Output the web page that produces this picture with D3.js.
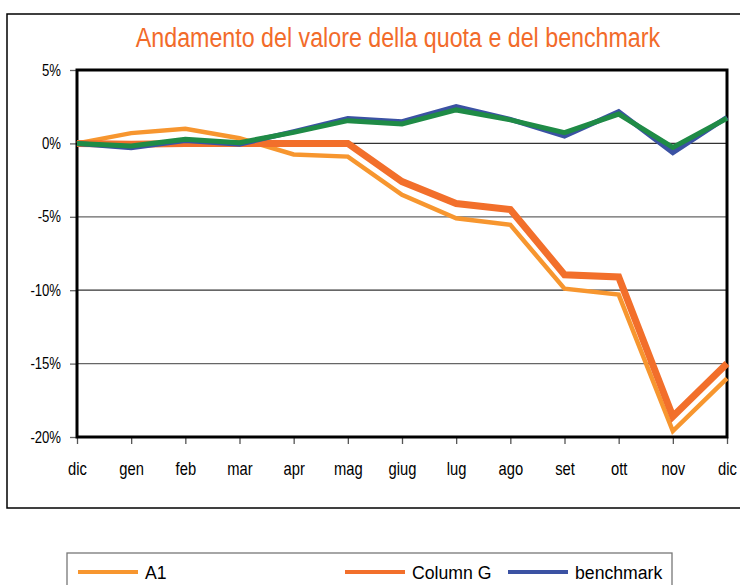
<!DOCTYPE html>
<html>
<head>
<meta charset="utf-8">
<script src="https://cdn.jsdelivr.net/npm/d3@7"></script>
<style>
  body { margin: 0; background: #fff; }
  svg { display: block; font-family: "Liberation Sans", Arial, sans-serif; }
</style>
</head>
<body>
<svg></svg>
<script>
let months = ["dic", "gen", "feb", "mar", "apr", "mag", "giug", "lug", "ago", "set", "ott", "nov", "dic"];
let a1 = [0, 0.7, 1.0, 0.35, -0.75, -0.9, -3.5, -5.1, -5.55, -9.9, -10.3, -19.6, -16.0];
let columnG = [0, -0.05, 0, 0, 0, 0, -2.6, -4.1, -4.5, -8.95, -9.1, -18.6, -15.0];
let benchmark = [0, -0.3, 0.2, -0.05, 0.8, 1.7, 1.48, 2.5, 1.64, 0.5, 2.16, -0.63, 1.78];
let serie4 = [0, -0.18, 0.28, 0.05, 0.75, 1.55, 1.32, 2.28, 1.6, 0.73, 2.0, -0.27, 1.71];
let yTicks = [-20, -15, -10, -5, 0, 5];

let svgWidth = 740;
let svgHeight = 585;
let plotLeft = 77, plotRight = 727, plotTop = 70, plotBottom = 437;

var svg = d3.select("svg")
                .attr("width", svgWidth)
                .attr("height", svgHeight);

// squeeze text horizontally (no narrow font installed)
function squeeze(sel, k) {
	sel.each(function () {
		let t = d3.select(this);
		let x = +t.attr("x") || 0;
		t.attr("x", x / k).attr("transform", `scale(${k},1)`);
	});
}

// outer frame
svg.append("rect")
	.attr("x", 7).attr("y", 14)
	.attr("width", 745).attr("height", 494)
	.attr("fill", "none")
	.attr("stroke", "#000")
	.attr("stroke-width", 1.5);

let xScale = d3.scaleLinear()
				.domain([0, months.length - 1])
				.range([plotLeft, plotRight]);
let yScale = d3.scaleLinear()
				.domain([-20, 5])
				.range([plotBottom, plotTop]);

// grid lines
svg.append("g")
	.selectAll("line")
	.data(yTicks.filter(d => d > -20 && d < 5))
	.enter()
	.append("line")
		.attr("x1", plotLeft).attr("x2", plotRight)
		.attr("y1", d => yScale(d)).attr("y2", d => yScale(d))
		.attr("stroke", (d, i) => i % 2 ? "#333" : "#666")
		.attr("stroke-width", 1.3);

let yAxis = d3.axisLeft(yScale)
				.tickValues(yTicks)
				.tickFormat(d => d + "%")
				.tickSize(7)
				.tickPadding(9)
				.tickSizeOuter(0);
let xAxis = d3.axisBottom(xScale)
				.tickValues(d3.range(months.length))
				.tickFormat(i => months[i])
				.tickSize(7)
				.tickPadding(18)
				.tickSizeOuter(0);

let gy = svg.append("g")
	.attr("transform", `translate(${plotLeft}, 0)`)
	.call(yAxis);
gy.select(".domain").remove();
gy.selectAll(".tick line").attr("stroke", "#666").attr("stroke-width", 1.3);
gy.selectAll("text").attr("font-size", 16).attr("fill", "#000").attr("font-family", "inherit").call(squeeze, 0.82);

let gx = svg.append("g")
	.attr("transform", `translate(0, ${plotBottom})`)
	.call(xAxis);
gx.select(".domain").remove();
gx.selectAll(".tick line").attr("stroke", "#555").attr("stroke-width", 1.3);
gx.selectAll("text").attr("font-size", 18).attr("fill", "#000").attr("font-family", "inherit").call(squeeze, 0.82);

// plot border
svg.append("rect")
	.attr("x", plotLeft).attr("y", plotTop)
	.attr("width", plotRight - plotLeft).attr("height", plotBottom - plotTop)
	.attr("fill", "none")
	.attr("stroke", "#000")
	.attr("stroke-width", 3);

let line = d3.line()
	.x((d, i) => xScale(i))
	.y(d => yScale(d));

let series = [
	{ values: a1, color: "#F7962F", width: 4.5 },
	{ values: columnG, color: "#F26F2B", width: 7 },
	{ values: benchmark, color: "#3B52A3", width: 5 },
	{ values: serie4, color: "#1F8B46", width: 5 }
];

svg.append("g")
	.selectAll("path")
	.data(series)
	.enter()
	.append("path")
		.attr("d", d => line(d.values))
		.attr("fill", "none")
		.attr("stroke", d => d.color)
		.attr("stroke-width", d => d.width)
		.attr("stroke-linejoin", "miter");

// title
svg.append("text")
	.text("Andamento del valore della quota e del benchmark")
	.attr("x", 398)
	.attr("y", 47)
	.attr("font-size", 28)
	.attr("fill", "#F26B2A")
	.attr("text-anchor", "middle")
	.call(squeeze, 0.83);

// legend
let legend = svg.append("g");
legend.append("rect")
	.attr("x", 67).attr("y", 553)
	.attr("width", 605).attr("height", 60)
	.attr("fill", "#fff")
	.attr("stroke", "#777")
	.attr("stroke-width", 1.3);

let legendItems = [
	{ name: "A1", color: "#F7962F", x: 78 },
	{ name: "Column G", color: "#F26F2B", x: 345 },
	{ name: "benchmark", color: "#3B52A3", x: 508 }
];
let li = legend.selectAll("g.item")
	.data(legendItems)
	.enter()
	.append("g")
	.attr("transform", d => `translate(${d.x}, 572)`);
li.append("line")
	.attr("x1", 0).attr("x2", 60)
	.attr("stroke", d => d.color)
	.attr("stroke-width", 4);
li.append("text")
	.text(d => d.name)
	.attr("x", 67)
	.attr("y", 7)
	.attr("font-size", 19)
	.call(squeeze, 0.93);
</script>
</body>
</html>
